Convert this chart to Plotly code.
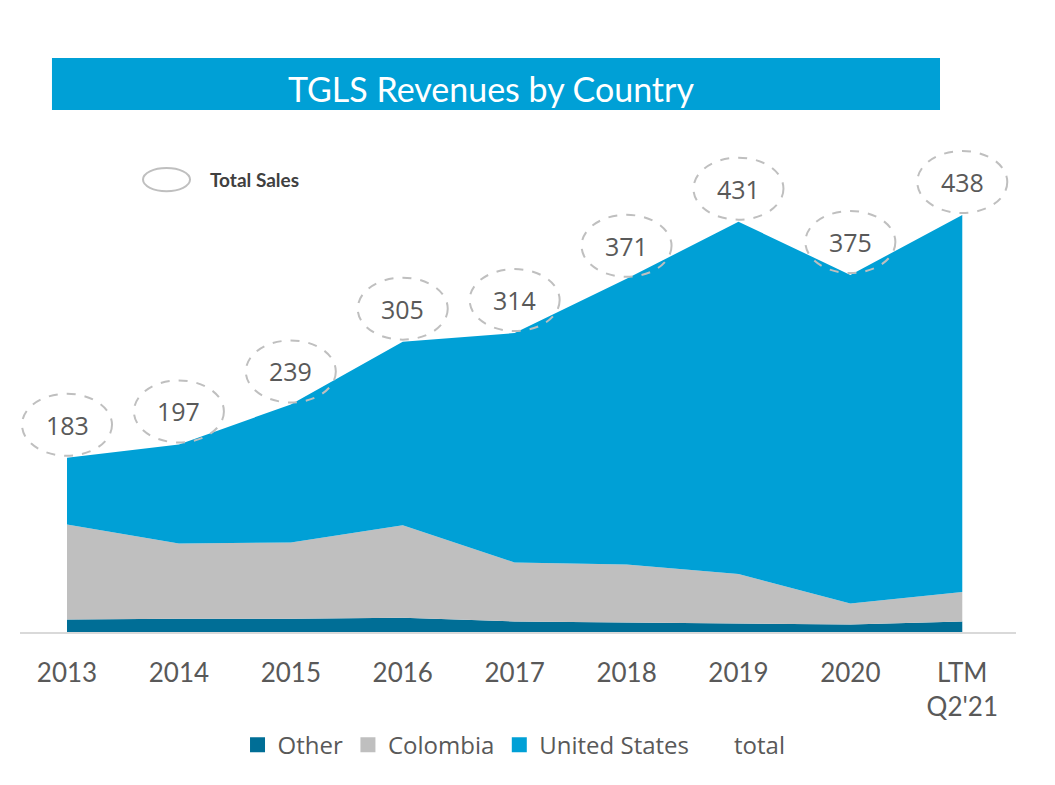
import plotly.graph_objects as go

# ---- data ----
categories = ["2013", "2014", "2015", "2016", "2017", "2018", "2019", "2020", "LTM<br>Q2'21"]
other = [13, 14, 14, 15, 11, 10, 9, 8, 11]
colombia = [100, 79, 80, 97, 62, 61, 52, 22, 31]
united_states = [70, 104, 145, 193, 241, 300, 370, 345, 396]
total = [183, 197, 239, 305, 314, 371, 431, 375, 438]

xpos = list(range(len(categories)))

C_OTHER = "#006E96"
C_COL = "#BFBFBF"
C_US = "#00A0D6"
TXT = "#595959"

fig = go.Figure()

for name, vals, col in [("Other", other, C_OTHER),
                        ("Colombia", colombia, C_COL),
                        ("United States", united_states, C_US)]:
    fig.add_trace(go.Scatter(x=xpos, y=vals, name=name, stackgroup="one",
                             mode="none", fillcolor=col, showlegend=False,
                             hoverinfo="x+y+name"))

# legend swatches
for name, col in [("Other", C_OTHER), ("Colombia", C_COL), ("United States", C_US)]:
    fig.add_trace(go.Scatter(x=[None], y=[None], mode="markers", name=name,
                             marker=dict(symbol="square", size=15, color=col),
                             showlegend=True))

# total series (invisible line, legend entry only)
fig.add_trace(go.Scatter(x=xpos, y=total, name="total", mode="lines",
                         line=dict(color="rgba(0,0,0,0)", width=0),
                         showlegend=True, hoverinfo="y+name"))

shapes = []
annotations = []
for i, t in enumerate(total):
    shapes.append(dict(type="circle", xref="x", yref="y",
                       xsizemode="pixel", ysizemode="pixel",
                       xanchor=i, yanchor=t,
                       x0=-45, x1=45, y0=2, y1=64,
                       line=dict(color="#BFBFBF", width=2, dash="dash"),
                       layer="above"))
    annotations.append(dict(x=i, y=t, xref="x", yref="y", text=str(t),
                            showarrow=False, yshift=33,
                            font=dict(family="Open Sans", size=25, color=TXT)))

# title banner
shapes.append(dict(type="rect", xref="paper", yref="paper",
                   x0=0.0321, x1=0.9237, y0=1.061, y1=1.1667,
                   fillcolor=C_US, line=dict(width=0), layer="above"))
annotations.append(dict(x=0.473, y=1.105, xref="paper", yref="paper",
                        text="TGLS Revenues by Country", showarrow=False,
                        xanchor="center", yanchor="middle",
                        font=dict(family="Lato", size=34, color="white")))

# "Total Sales" key
shapes.append(dict(type="circle", xref="paper", yref="paper",
                   x0=0.1235, x1=0.1707, y0=0.896, y1=0.943,
                   line=dict(color="#BFBFBF", width=2)))
annotations.append(dict(x=0.1888, y=0.9207, xref="paper", yref="paper",
                        text="<b>Total Sales</b>", showarrow=False,
                        xanchor="left", yanchor="middle",
                        font=dict(family="Lato", size=19, color="#404040")))

fig.update_layout(
    width=1055, height=785,
    margin=dict(l=20, r=39, t=140, b=153),
    paper_bgcolor="white", plot_bgcolor="white",
    shapes=shapes, annotations=annotations,
    showlegend=True,
    legend=dict(orientation="h", x=0.496, xanchor="center",
                y=-0.23, yanchor="middle", traceorder="normal",
                font=dict(family="Open Sans", size=24, color=TXT),
                bgcolor="rgba(0,0,0,0)"),
    xaxis=dict(range=[-0.42, 8.48], tickmode="array", tickvals=xpos,
               ticktext=categories, showgrid=False, zeroline=False,
               showline=True, linecolor="#D9D9D9", linewidth=2,
               ticks="outside", ticklen=17, tickcolor="rgba(0,0,0,0)",
               tickfont=dict(family="Lato", size=26, color=TXT)),
    yaxis=dict(range=[0, 516.8], visible=False, showgrid=False, zeroline=False),
)

fig.write_html("out.html")
